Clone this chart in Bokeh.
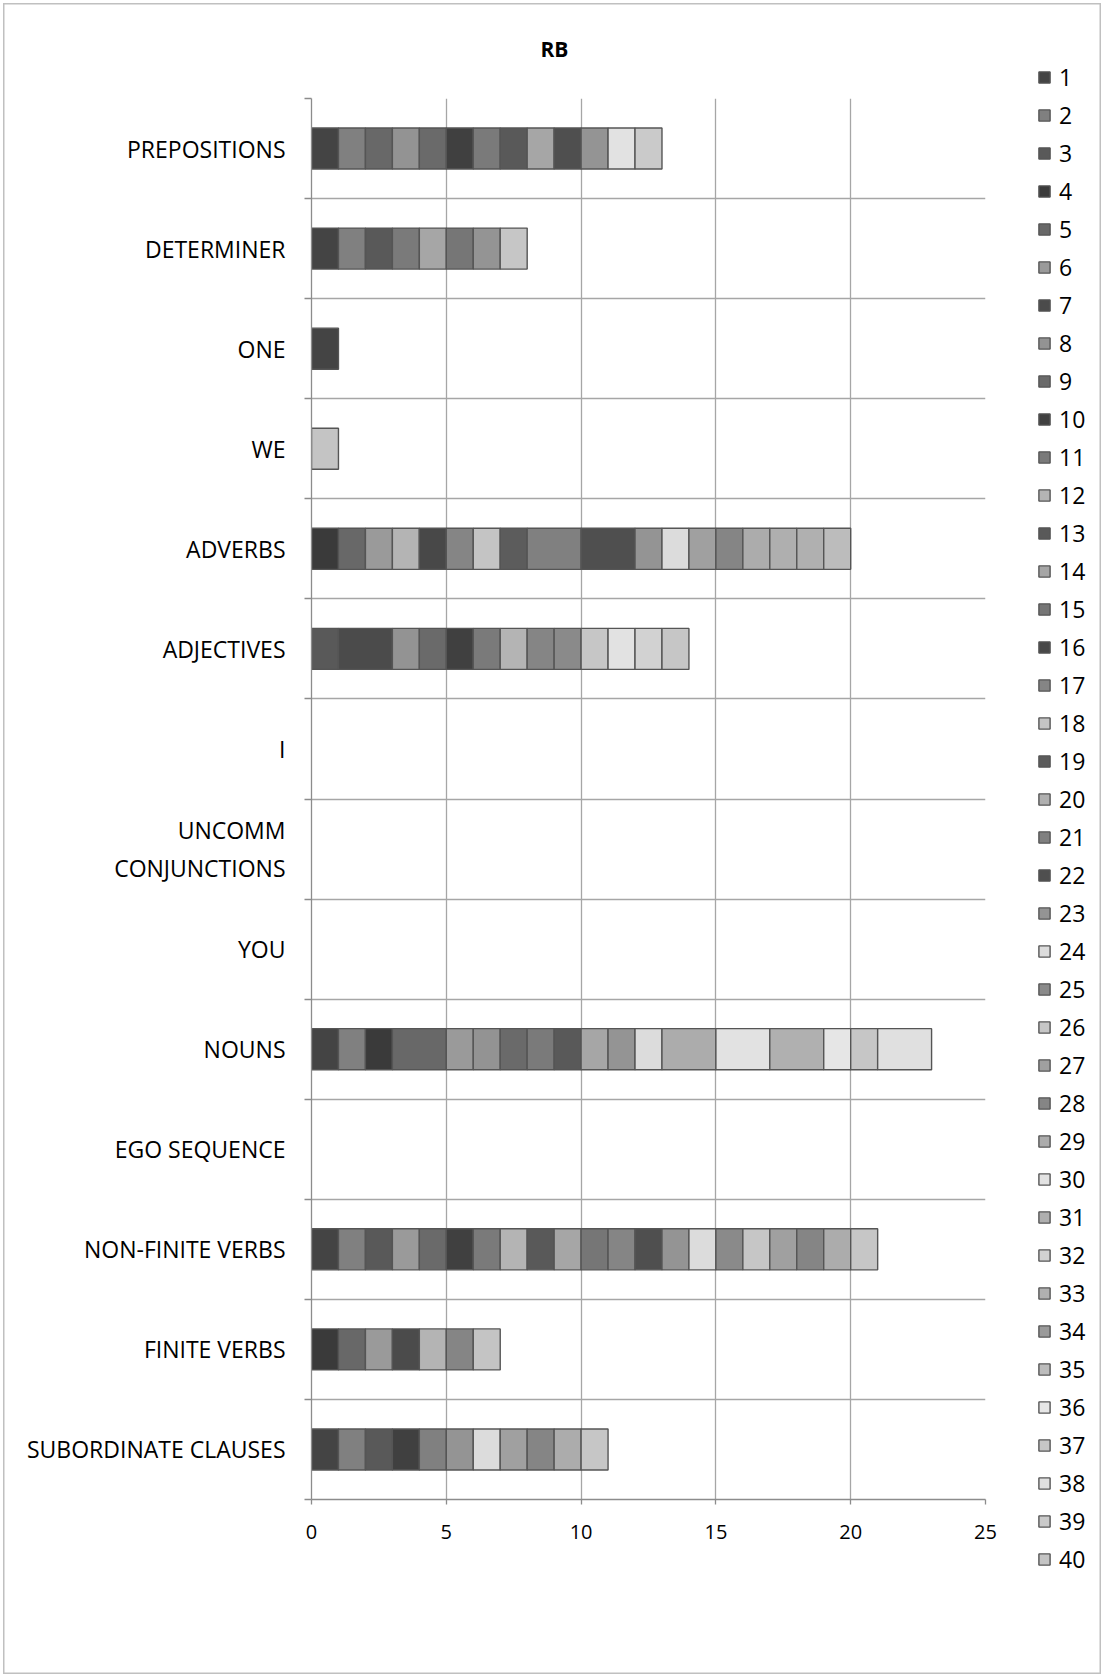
from bokeh.plotting import figure
from bokeh.layouts import row
from bokeh.models import (ColumnDataSource, FixedTicker, Legend, LegendItem, Range1d)
from bokeh.embed import file_html
from bokeh.resources import INLINE

# ---------------- data ----------------
categories = ["PREPOSITIONS", "DETERMINER", "ONE", "WE", "ADVERBS", "ADJECTIVES",
              "I", "UNCOMM\nCONJUNCTIONS", "YOU", "NOUNS", "EGO SEQUENCE",
              "NON-FINITE VERBS", "FINITE VERBS", "SUBORDINATE CLAUSES"]

series_names = [str(i) for i in range(1, 41)]
series_colors = ["#444444", "#808080", "#595959", "#3a3a3a", "#686868", "#9a9a9a",
                 "#4b4b4b", "#939393", "#6a6a6a", "#404040", "#7a7a7a", "#b4b4b4",
                 "#595959", "#a6a6a6", "#767676", "#484848", "#858585", "#c4c4c4",
                 "#5c5c5c", "#b0b0b0", "#808080", "#4f4f4f", "#949494", "#dcdcdc",
                 "#8a8a8a", "#c6c6c6", "#a0a0a0", "#858585", "#acacac", "#e2e2e2",
                 "#afafaf", "#d2d2d2", "#b0b0b0", "#9a9a9a", "#bcbcbc", "#e6e6e6",
                 "#c6c6c6", "#e0e0e0", "#cacaca", "#c4c4c4"]

# value of each series (by series number) within a category
prepositions = {1: 1, 2: 1, 5: 1, 8: 1, 9: 1, 10: 1, 11: 1, 13: 1, 14: 1, 22: 1, 23: 1, 30: 1, 39: 1}
determiner = {1: 1, 2: 1, 3: 1, 11: 1, 14: 1, 15: 1, 23: 1, 26: 1}
one = {1: 1}
we = {18: 1}
adverbs = {4: 1, 5: 1, 6: 1, 12: 1, 16: 1, 17: 1, 18: 1, 19: 1, 21: 2, 22: 2, 23: 1, 24: 1,
           27: 1, 28: 1, 29: 1, 31: 1, 33: 1, 35: 1}
adjectives = {3: 1, 7: 2, 8: 1, 9: 1, 10: 1, 11: 1, 12: 1, 17: 1, 25: 1, 26: 1, 30: 1, 32: 1, 37: 1}
i_pron = {}
uncomm_conj = {}
you = {}
nouns = {1: 1, 2: 1, 4: 1, 5: 2, 6: 1, 8: 1, 9: 1, 11: 1, 13: 1, 14: 1, 23: 1, 24: 1,
         29: 2, 30: 2, 33: 2, 36: 1, 37: 1, 38: 2}
ego_sequence = {}
non_finite = {1: 1, 2: 1, 3: 1, 6: 1, 9: 1, 10: 1, 11: 1, 12: 1, 13: 1, 14: 1, 15: 1, 17: 1,
              22: 1, 23: 1, 24: 1, 25: 1, 26: 1, 27: 1, 28: 1, 29: 1, 37: 1}
finite = {4: 1, 5: 1, 6: 1, 7: 1, 12: 1, 17: 1, 18: 1}
subordinate = {1: 1, 2: 1, 3: 1, 10: 1, 21: 1, 23: 1, 24: 1, 27: 1, 28: 1, 29: 1, 37: 1}

category_values = [prepositions, determiner, one, we, adverbs, adjectives, i_pron,
                   uncomm_conj, you, nouns, ego_sequence, non_finite, finite, subordinate]

x_ticks = [0, 5, 10, 15, 20, 25]

# ---------------- main chart ----------------
n = len(categories)
W, H = 1104, 1677
LEG_W = 94
BL, BR, BT, BB = 311, 25, 98, 178
FONT = "Open Sans"
BAR_LINE = "#555555"

p = figure(width=W - LEG_W, height=H, x_range=Range1d(0, 25), y_range=Range1d(0, n),
           output_backend="svg", toolbar_location=None,
           min_border_left=BL, min_border_right=BR,
           min_border_top=BT, min_border_bottom=BB)
p.background_fill_color = "white"
p.border_fill_alpha = 0
p.outline_line_color = None

ypos = [n - i - 0.5 for i in range(n)]

for k, name in enumerate(series_names):
    s = k + 1
    ys, lefts, rights = [], [], []
    for i, vals in enumerate(category_values):
        v = vals.get(s, 0)
        if v > 0:
            left = sum(vals.get(j, 0) for j in range(1, s))
            ys.append(ypos[i])
            lefts.append(left)
            rights.append(left + v)
    if ys:
        src = ColumnDataSource(dict(y=ys, left=lefts, right=rights))
        p.hbar(y="y", left="left", right="right", height=0.41, source=src,
               fill_color=series_colors[k], line_color=BAR_LINE, line_width=1.4)

# grids
p.xgrid.ticker = FixedTicker(ticks=x_ticks)
p.ygrid.ticker = FixedTicker(ticks=list(range(n + 1)))
for g in (p.xgrid, p.ygrid):
    g.grid_line_color = "#a6a6a6"
    g.grid_line_width = 1.3

# axes
p.xaxis.ticker = FixedTicker(ticks=x_ticks)
p.xaxis.major_tick_out = 5
p.xaxis.major_tick_in = 0
p.xaxis.minor_tick_out = 0
p.xaxis.major_label_standoff = 20
p.xaxis.major_label_text_font_size = "20px"

p.yaxis.ticker = FixedTicker(ticks=ypos, minor_ticks=list(range(n + 1)))
p.yaxis.major_label_overrides = {ypos[i]: categories[i] for i in range(n)}
p.yaxis.major_tick_out = 0
p.yaxis.major_tick_in = 0
p.yaxis.minor_tick_out = 7
p.yaxis.minor_tick_in = 0
p.yaxis.major_label_standoff = 19
p.yaxis.major_label_text_font_size = "23px"

for ax in (p.xaxis, p.yaxis):
    ax.axis_line_color = "#8c8c8c"
    ax.axis_line_width = 1.3
    ax.major_tick_line_color = "#8c8c8c"
    ax.minor_tick_line_color = "#8c8c8c"
    ax.major_tick_line_width = 1.3
    ax.minor_tick_line_width = 1.3
    ax.major_label_text_font = FONT
    ax.major_label_text_color = "black"

# title
p.title.text = "RB"
p.title.text_font = FONT
p.title.text_font_size = "21px"
p.title.text_font_style = "bold"
p.title.text_color = "black"
p.title.align = "left"
p.title.offset = 229
p.title.vertical_align = "top"
p.title.standoff = 68

# ---------------- legend panel ----------------
q = figure(width=LEG_W, height=H, x_range=Range1d(0, 1), y_range=Range1d(0, 1),
           output_backend="svg", toolbar_location=None,
           x_axis_location=None, y_axis_location=None,
           min_border=0, min_border_left=0, min_border_right=0,
           min_border_top=0, min_border_bottom=0)
q.grid.visible = False
q.outline_line_color = None
q.background_fill_alpha = 0
q.border_fill_alpha = 0

# keep the legend panel's frame independent from the chart's frame
aligned = True
for fig in (p, q):
    try:
        fig.frame_align = False
        aligned = False
    except Exception:
        pass

legend_renderers = []
for k in range(len(series_names)):
    src = ColumnDataSource(dict(y=[float("nan")], left=[0], right=[0]))
    legend_renderers.append(
        q.hbar(y="y", left="left", right="right", height=1, source=src,
               fill_color=series_colors[k], line_color=BAR_LINE, line_width=1.4))

items = [LegendItem(label=series_names[k], renderers=[legend_renderers[k]])
         for k in range(len(series_names))]
LABEL_H, SPACING = 32, 6
lg = Legend(items=items)
lg.border_line_color = None
lg.background_fill_alpha = 0
lg.padding = 0
lg.margin = 0
lg.spacing = SPACING
lg.glyph_width = 14
lg.glyph_height = 14
lg.label_height = LABEL_H
lg.label_standoff = 8
lg.label_text_font = FONT
lg.label_text_font_size = "23px"
lg.label_text_color = "black"
leg_h = len(items) * LABEL_H + (len(items) - 1) * SPACING
leg_top = 61
frame_bottom = H - (BB if aligned else 0)
lg.location = (1037 - (W - LEG_W), frame_bottom - leg_top - leg_h)
q.add_layout(lg, "center")

layout = row(p, q, spacing=0)
layout.styles = {"box-shadow": "inset 0 0 0 3px white, inset 0 0 0 4.5px #c0c0c0",
                 "background-color": "white", "width": f"{W}px", "height": f"{H}px"}

open("out.html", "w").write(file_html(layout, INLINE))
